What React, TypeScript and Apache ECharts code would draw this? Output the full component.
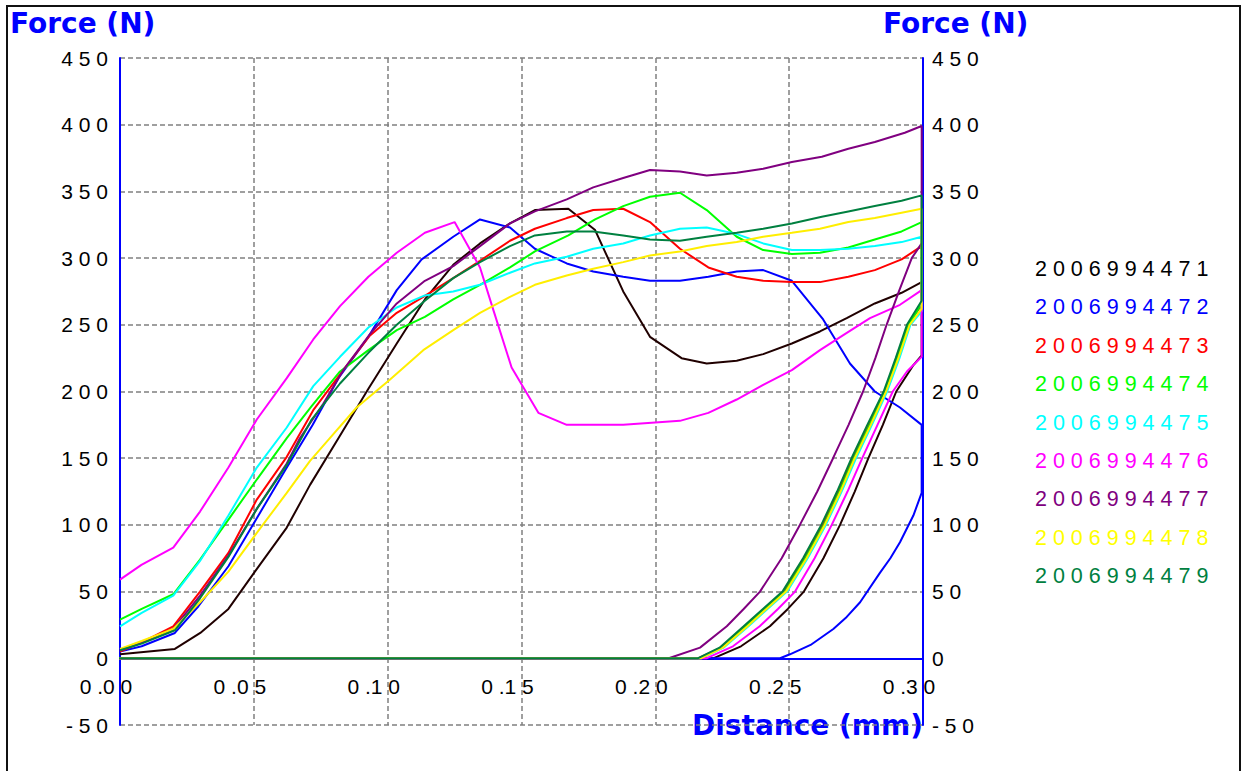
import React, { useEffect, useRef } from "react";
import * as echarts from "echarts";

const seriesNames = [
  "2006994471", "2006994472", "2006994473", "2006994474", "2006994475",
  "2006994476", "2006994477", "2006994478", "2006994479",
];
const seriesColors = [
  "#200000", "#0000ff", "#ff0000", "#00ff00", "#00ffff",
  "#ff00ff", "#800080", "#ffee00", "#008040",
];
const legendColors = [
  "#000000", "#0000ff", "#ff0000", "#00ff00", "#00ffff",
  "#ff00ff", "#800080", "#ffff00", "#008040",
];

const forceMin = -50;
const forceMax = 450;
const forceStep = 50;
const distMin = 0;
const distMax = 0.3;
const distStep = 0.05;

// crosshead returns to below the start, at zero force
const returnPoint = [[-0.042, 0]];

const load471 = [[0,3],[0.0205,7],[0.030,19],[0.0405,37],[0.0504,65],[0.0623,98],[0.071,130],[0.0816,165],[0.0928,202],[0.1034,236],[0.1139,269],[0.1245,295],[0.1345,311],[0.1457,326],[0.155,336],[0.1675,337],[0.1775,321],[0.188,275],[0.198,241],[0.2098,225],[0.2192,221],[0.2304,223],[0.2403,228],[0.251,236],[0.2615,245],[0.2715,255],[0.282,266],[0.292,274],[0.2995,282]];
const unload471 = [[0.2995,227],[0.2965,220],[0.290,200],[0.285,175],[0.2796,150],[0.2745,125],[0.269,100],[0.2628,75],[0.2555,50],[0.2495,37],[0.2428,24],[0.232,9],[0.2216,0]];

const load472 = [[0,5],[0.0081,9],[0.0205,19],[0.0293,39],[0.0405,69],[0.0511,105],[0.0617,141],[0.072,175],[0.0816,210],[0.0928,241],[0.1034,276],[0.1127,299],[0.1245,316],[0.1345,329],[0.1457,323],[0.155,307],[0.1669,296],[0.1768,290],[0.188,286],[0.198,283],[0.2092,283],[0.2198,286],[0.2304,290],[0.2403,291],[0.251,283],[0.2627,254],[0.2727,221],[0.282,200],[0.2914,188],[0.2995,175]];
const unload472 = [[0.2995,124],[0.2964,107],[0.2914,87],[0.2878,75],[0.2839,64],[0.2765,42],[0.2715,31],[0.2665,22],[0.258,10],[0.2503,3],[0.2466,0]];

const load473 = [[0,5],[0.0081,12],[0.0199,24],[0.0299,50],[0.0405,79],[0.0511,119],[0.0623,151],[0.0722,186],[0.0834,216],[0.0934,242],[0.1034,259],[0.1133,271],[0.1245,285],[0.1345,298],[0.1457,313],[0.155,322],[0.1669,330],[0.1768,336],[0.188,337],[0.198,327],[0.2092,307],[0.2198,293],[0.2304,286],[0.2403,283],[0.251,282],[0.2615,282],[0.2721,286],[0.282,291],[0.292,299],[0.2995,309]];
const unload473 = [[0.2995,265],[0.2945,250],[0.2902,225],[0.2858,200],[0.2797,175],[0.2738,150],[0.2683,125],[0.2624,100],[0.2557,75],[0.248,50],[0.2407,37],[0.2336,24],[0.2245,8],[0.216,0]];

const load474 = [[0,29],[0.0081,37],[0.0199,48],[0.0299,74],[0.0405,104],[0.0511,134],[0.0623,165],[0.0716,189],[0.0822,215],[0.0928,231],[0.1034,246],[0.1139,256],[0.1245,269],[0.1345,280],[0.1457,293],[0.155,305],[0.1675,317],[0.1775,329],[0.188,339],[0.198,346],[0.2092,349],[0.2192,336],[0.2304,316],[0.2403,306],[0.251,303],[0.2615,304],[0.2721,308],[0.282,314],[0.292,320],[0.2995,327]];
const unload474 = [[0.2995,266],[0.2947,250],[0.2905,225],[0.286,200],[0.2801,175],[0.2742,150],[0.2688,125],[0.263,100],[0.2561,75],[0.2485,50],[0.2411,37],[0.234,24],[0.225,8],[0.2165,0]];

const load475 = [[0,24],[0.0081,34],[0.0199,47],[0.0299,73],[0.0405,107],[0.0511,143],[0.0623,173],[0.0722,204],[0.0822,226],[0.0928,248],[0.1034,263],[0.1139,272],[0.1245,275],[0.1345,280],[0.1457,289],[0.155,296],[0.1669,301],[0.1768,307],[0.188,311],[0.198,317],[0.2092,322],[0.2192,323],[0.2304,318],[0.2403,311],[0.251,306],[0.2615,306],[0.2721,307],[0.282,309],[0.292,312],[0.2995,316]];
const unload475 = [[0.2995,260],[0.2953,250],[0.2912,225],[0.2866,200],[0.2809,175],[0.275,150],[0.2696,125],[0.2637,100],[0.2569,75],[0.2492,50],[0.2419,37],[0.2348,24],[0.2255,8],[0.2172,0]];

const load476 = [[0,59],[0.008,70],[0.0199,83],[0.0299,110],[0.0405,143],[0.0511,179],[0.0623,210],[0.0722,239],[0.0822,264],[0.0928,286],[0.1034,304],[0.1139,319],[0.125,327],[0.1345,293],[0.1395,261],[0.1463,218],[0.1563,184],[0.1669,175],[0.188,175],[0.2092,178],[0.2198,184],[0.2304,194],[0.2403,205],[0.251,216],[0.2615,231],[0.2708,243],[0.2802,255],[0.2914,265],[0.2995,276]];
const unload476 = [[0.2995,226],[0.294,215],[0.2887,200],[0.283,175],[0.2773,150],[0.2718,125],[0.2659,100],[0.2595,75],[0.2522,50],[0.2458,37],[0.239,24],[0.229,9],[0.219,0]];

const load477 = [[0,6],[0.0081,12],[0.0199,22],[0.0299,47],[0.0405,77],[0.0511,112],[0.0623,146],[0.0672,165],[0.076,191],[0.0834,216],[0.0934,243],[0.1034,266],[0.1139,283],[0.1245,294],[0.1345,309],[0.1457,326],[0.155,335],[0.1669,344],[0.1768,353],[0.188,360],[0.198,366],[0.2092,365],[0.2192,362],[0.2304,364],[0.2403,367],[0.251,372],[0.2622,376],[0.2721,382],[0.282,387],[0.2932,394],[0.2995,399]];
const unload477 = [[0.2995,311],[0.2958,300],[0.291,275],[0.2864,250],[0.2822,225],[0.2776,200],[0.2722,175],[0.2664,150],[0.2605,125],[0.254,100],[0.2472,75],[0.2391,50],[0.233,37],[0.2267,24],[0.2167,8],[0.205,0]];

const load478 = [[0,7],[0.0081,13],[0.0199,22],[0.0299,42],[0.0405,65],[0.0511,94],[0.0623,124],[0.071,148],[0.0784,165],[0.0884,188],[0.1009,209],[0.1133,231],[0.1245,246],[0.1345,259],[0.1457,271],[0.155,280],[0.1669,287],[0.1768,292],[0.188,297],[0.198,302],[0.2092,305],[0.2192,309],[0.2304,312],[0.2403,316],[0.251,319],[0.2615,322],[0.2721,327],[0.282,330],[0.292,334],[0.2995,337]];
const unload478 = [[0.2995,262],[0.295,250],[0.2908,225],[0.2862,200],[0.2805,175],[0.2745,150],[0.2692,125],[0.2633,100],[0.2565,75],[0.2488,50],[0.2415,37],[0.2344,24],[0.2252,8],[0.217,0]];

const load479 = [[0,6],[0.0081,11],[0.0205,21],[0.0299,45],[0.0405,76],[0.0511,112],[0.0623,145],[0.0716,179],[0.0822,206],[0.0928,229],[0.1034,250],[0.1139,268],[0.1245,285],[0.1345,297],[0.1457,309],[0.155,317],[0.1669,320],[0.1768,320],[0.188,317],[0.198,314],[0.2092,313],[0.2192,316],[0.2304,319],[0.2403,322],[0.251,326],[0.2622,331],[0.2721,335],[0.282,339],[0.292,343],[0.2995,347]];
const unload479 = [[0.2995,268],[0.294,250],[0.2898,225],[0.2853,200],[0.2792,175],[0.2733,150],[0.2679,125],[0.262,100],[0.2552,75],[0.2475,50],[0.2402,37],[0.233,24],[0.224,8],[0.2158,0]];

const loads = [load471, load472, load473, load474, load475, load476, load477, load478, load479];
const unloads = [unload471, unload472, unload473, unload474, unload475, unload476, unload477, unload478, unload479];

const TICK_FONT = '"Liberation Sans", Arial, sans-serif';
const TITLE_FONT = '"DejaVu Sans", Verdana, sans-serif';

const spaced = (s: string) => s.split("").join(" ");

export default function App() {
  const ref = useRef<HTMLDivElement>(null);
  useEffect(() => {
    if (!ref.current) return;
    const chart = echarts.init(ref.current, null, { renderer: "svg" });
    const yLabel = (v: number) => spaced(String(Math.round(v)));
    const xLabel = (v: number) => spaced(v.toFixed(2)).replace(" . ", " .");
    const zeroOffset = -(667 * (0 - forceMin)) / (forceMax - forceMin);
    const option: any = {
      animation: false,
      backgroundColor: "#ffffff",
      grid: { left: 120, top: 58, width: 803, height: 667, containLabel: false },
      xAxis: {
        type: "value",
        min: distMin,
        max: distMax,
        interval: distStep,
        offset: zeroOffset,
        axisLine: { show: true, onZero: false, lineStyle: { color: "#0000ff", width: 2 } },
        axisTick: { show: false },
        axisLabel: {
          formatter: xLabel,
          fontFamily: TICK_FONT,
          fontSize: 21,
          color: "#000",
          margin: 18,
          padding: [0, 28, 0, 0],
        },
        splitLine: { show: true, lineStyle: { color: "#808080", width: 1.5, type: [5, 3] } },
      },
      yAxis: [
        {
          type: "value",
          position: "left",
          min: forceMin,
          max: forceMax,
          interval: forceStep,
          axisLine: { show: true, onZero: false, lineStyle: { color: "#0000ff", width: 2 } },
          axisTick: { show: false },
          axisLabel: { formatter: yLabel, fontFamily: TICK_FONT, fontSize: 21, color: "#000", margin: 12 },
          splitLine: { show: true, lineStyle: { color: "#808080", width: 1.5, type: [5, 3] } },
        },
        {
          type: "value",
          position: "right",
          min: forceMin,
          max: forceMax,
          interval: forceStep,
          axisLine: { show: true, onZero: false, lineStyle: { color: "#0000ff", width: 2 } },
          axisTick: { show: false },
          axisLabel: { formatter: yLabel, fontFamily: TICK_FONT, fontSize: 21, color: "#000", margin: 9 },
          splitLine: { show: false },
        },
      ],
      legend: {
        orient: "vertical",
        left: 1025,
        top: 251,
        icon: "none",
        itemWidth: 0,
        itemHeight: 26,
        itemGap: 12.4,
        selectedMode: false,
        formatter: (name: string) => spaced(name),
        textStyle: { fontFamily: TICK_FONT, fontSize: 21.5, lineHeight: 26 },
        data: seriesNames.map((n, i) => ({ name: n, textStyle: { color: legendColors[i] } })),
      },
      series: seriesNames.map((name, i) => ({
        name,
        type: "line",
        yAxisIndex: 0,
        showSymbol: false,
        symbol: "none",
        clip: false,
        color: seriesColors[i],
        lineStyle: { width: 2, color: seriesColors[i] },
        data: [...loads[i], ...unloads[i], ...returnPoint],
      })),
      graphic: [
        {
          type: "rect",
          shape: { x: 7, y: 6, width: 1233, height: 800 },
          style: { fill: "none", stroke: "#111", lineWidth: 2 },
          silent: true,
        },
        {
          type: "text",
          x: 10,
          y: 9,
          style: { text: "Force (N)", font: `bold 28px ${TITLE_FONT}`, fill: "#0000ff", textVerticalAlign: "top" },
        },
        {
          type: "text",
          x: 883,
          y: 9,
          style: { text: "Force (N)", font: `bold 28px ${TITLE_FONT}`, fill: "#0000ff", textVerticalAlign: "top" },
        },
        {
          type: "text",
          x: 692,
          y: 711,
          style: { text: "Distance (mm)", font: `bold 28px ${TITLE_FONT}`, fill: "#0000ff", textVerticalAlign: "top" },
        },
      ],
    };
    chart.setOption(option);
    return () => chart.dispose();
  }, []);
  return (
    <div
      ref={ref}
      style={{ position: "fixed", left: 0, top: 0, width: 1244, height: 771, background: "#fff" }}
    />
  );
}
